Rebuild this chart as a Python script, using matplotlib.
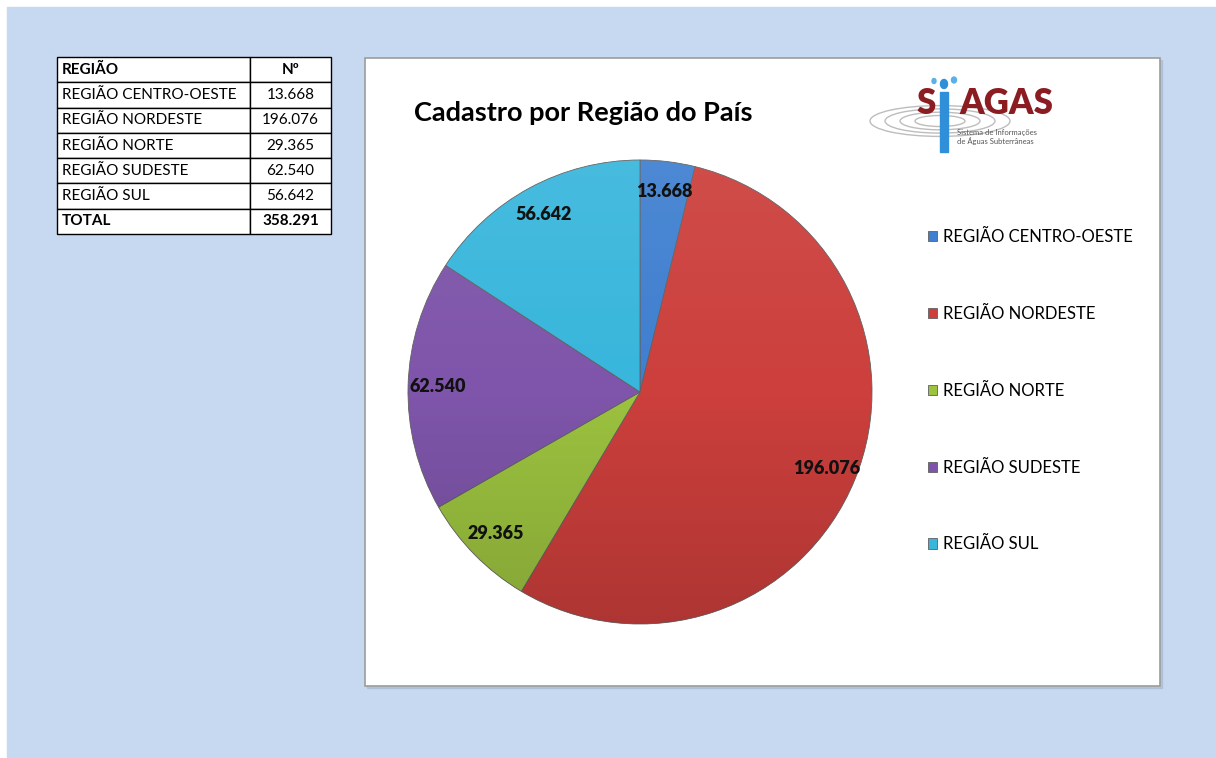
import matplotlib.pyplot as plt
import numpy as np
from matplotlib.patches import Rectangle, Ellipse, Circle

regioes = ['REGIÃO CENTRO-OESTE', 'REGIÃO NORDESTE', 'REGIÃO NORTE', 'REGIÃO SUDESTE', 'REGIÃO SUL']
cadastros = [13668, 196076, 29365, 62540, 56642]
cores = ['#3F7FD0', '#CC3F3C', '#9CC23F', '#7E55AA', '#38B6DC']
total = sum(cadastros)


def fmt(n):
    # separador de milhar brasileiro
    return f'{n:,}'.replace(',', '.')


plt.rcParams['font.family'] = ['Lato', 'DejaVu Sans']

W, H = 1216, 758
fig = plt.figure(figsize=(W / 100, H / 100), dpi=100)

# fundo, moldura do grafico e titulo (coordenadas em pixels)
bg = fig.add_axes([0, 0, 1, 1])
bg.set_xlim(0, W)
bg.set_ylim(H, 0)
bg.axis('off')
bg.add_patch(Rectangle((7, 7), W - 7, H - 7, color='#C6D9F0'))
bg.add_patch(Rectangle((367, 60), 795, 628, color='#9AAAC0', alpha=0.4))
bg.add_patch(Rectangle((365, 58), 795, 628, facecolor='white', edgecolor='#9C9C9C', lw=1.2))
bg.text(414, 113, 'Cadastro por Região do País', fontsize=19.5, fontweight='bold', va='center')

# logo SIAGAS
for w in [140, 110, 80, 50]:
    bg.add_patch(Ellipse((940, 121), w, w * 0.22, fill=False, edgecolor='#BDBDBD', lw=1))
bg.add_patch(Rectangle((940, 92), 8, 60, color='#2F8FD8'))
bg.add_patch(Ellipse((944, 84), 7, 9, color='#2F8FD8'))
bg.add_patch(Ellipse((954, 80), 5, 6, color='#5AB0E8'))
bg.add_patch(Ellipse((934, 81), 4, 5, color='#5AB0E8'))
bg.text(926, 104, 'S', fontsize=25, fontweight='heavy', color='#8B1C22', ha='center', va='center')
bg.text(1006, 104, 'AGAS', fontsize=25, fontweight='heavy', color='#8B1C22', ha='center', va='center')
bg.text(957, 132, 'Sistema de Informações', fontsize=5.5, color='#555555', va='center')
bg.text(957, 141, 'de Águas Subterrâneas', fontsize=5.5, color='#555555', va='center')

# tabela
tax = fig.add_axes([57 / W, (H - 234) / H, 274 / W, 177 / H])
tax.axis('off')
linhas = [['REGIÃO', 'Nº']] + [[r, fmt(v)] for r, v in zip(regioes, cadastros)] + [['TOTAL', fmt(total)]]
tab = tax.table(cellText=linhas, bbox=[0, 0, 1, 1], colWidths=[193 / 274, 81 / 274])
tab.auto_set_font_size(False)
for (r, c), cell in tab.get_celld().items():
    cell.set_edgecolor('black')
    cell.set_linewidth(1)
    cell.get_text().set_fontsize(11)
    if c == 0:
        cell.set_text_props(ha='left')
        cell.PAD = 0.025
    else:
        cell.set_text_props(ha='center')
    if r == 0 or r == len(linhas) - 1:
        cell.get_text().set_fontweight('bold')

# pizza
pax = fig.add_axes([408 / W, (H - 392 - 232) / H, 464 / W, 464 / H])
wedges, texts, autotexts = pax.pie(
    cadastros, colors=cores, startangle=90, counterclock=False,
    autopct=lambda p: fmt(round(p * total / 100)), pctdistance=0.87,
    wedgeprops=dict(edgecolor='#606060', linewidth=0.6))
for t in autotexts:
    t.set_fontsize(13)
    t.set_fontweight('heavy')
    t.set_color('#111111')

# brilho: levemente mais claro em cima, mais escuro embaixo
grad = np.zeros((200, 2, 4))
t = np.linspace(0, 1, 200)[:, None]
grad[..., :3] = np.where(t[..., None] < 0.5, 1.0, 0.0)
grad[..., 3] = np.where(t < 0.5, (0.5 - t) * 0.15, (t - 0.5) * 0.3)
img = pax.imshow(grad, extent=(-1, 1, -1, 1), origin='upper', zorder=2, interpolation='bilinear')
img.set_clip_path(Circle((0, 0), 1, transform=pax.transData))
pax.set_xlim(-1, 1)
pax.set_ylim(-1, 1)
pax.set_aspect('equal')
pax.axis('off')

fig.legend(wedges, regioes, loc='upper left', bbox_to_anchor=(913 / W, 1 - 214 / H),
           frameon=False, fontsize=12, labelspacing=3.65, handlelength=0.55,
           handleheight=0.55, handletextpad=0.35)

fig.savefig('out.png', dpi=100)
